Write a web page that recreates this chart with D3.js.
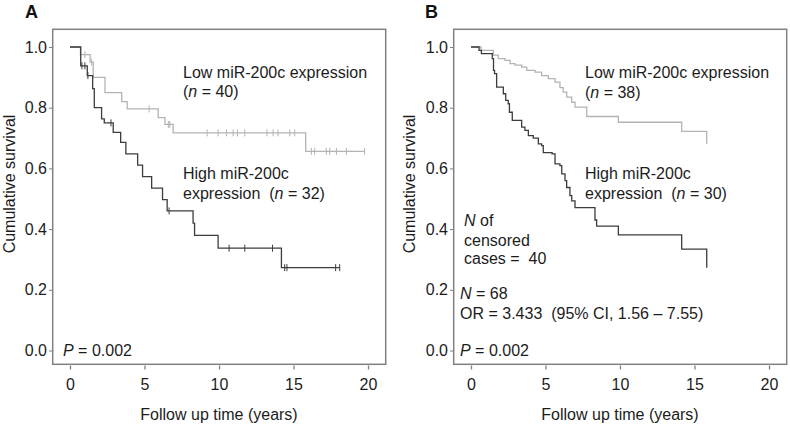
<!DOCTYPE html>
<html>
<head>
<meta charset="utf-8">
<script src="https://cdn.jsdelivr.net/npm/d3@7"></script>
<style>
html,body{margin:0;padding:0;background:#fff;}
svg{display:block;font-family:"Liberation Sans",Arial,sans-serif;}
</style>
</head>
<body>
<svg id="chart" width="790" height="425"></svg>
<script>
// ---- tick labels ----
const yearTicks = [0, 5, 10, 15, 20];
const survTicks = [0.0, 0.2, 0.4, 0.6, 0.8, 1.0];

// ---- Panel A: Low miR-200c (n = 40) ----
const aLowTime = [0, 0.7, 1.35, 1.56, 2.35, 3.47, 3.84, 5.92, 6.37, 6.92, 15.82, 19.77];
const aLowSurv = [1.0, 0.975, 0.95, 0.90, 0.85, 0.82, 0.796, 0.767, 0.745, 0.717, 0.656, 0.656];
const aLowCensor = [1.0, 1.45, 5.31, 6.6, 6.7, 9.2, 9.94, 10.5, 10.95, 11.24, 11.73, 13.22, 13.63, 13.96, 14.75, 15.08,
                    16.2, 16.42, 17.2, 17.43, 17.88, 18.55, 19.77];

// ---- Panel A: High miR-200c (n = 32) ----
const aHighTime = [0, 0.72, 1.16, 1.52, 1.63, 2.12, 2.3, 2.9, 3.4, 3.75, 4.54, 4.87, 5.48, 6.21, 6.52, 8.26, 8.36, 9.94, 14.19, 18.1];
const aHighSurv = [1.0, 0.938, 0.906, 0.863, 0.80, 0.763, 0.75, 0.719, 0.686, 0.648, 0.611, 0.573, 0.535, 0.497, 0.46, 0.42, 0.379, 0.337, 0.273, 0.273];
const aHighCensor = [0.8, 1.0, 1.2, 2.75, 6.65, 10.68, 11.73, 13.59, 14.41, 14.56, 17.83, 18.1];

// ---- Panel B: Low miR-200c (n = 38) ----
const bLowTime = [0, 0.67, 1.5, 1.83, 2.28, 2.62, 2.95, 3.4, 3.74, 4.3, 4.74, 5.19, 5.64, 5.97, 6.19, 6.42, 6.76, 6.98, 7.77, 9.89, 14.14, 15.82];
const bLowSurv = [1.0, 0.989, 0.973, 0.962, 0.956, 0.945, 0.94, 0.934, 0.923, 0.917, 0.906, 0.896, 0.884, 0.866, 0.851, 0.835, 0.818, 0.802, 0.771, 0.752, 0.722, 0.681];

// ---- Panel B: High miR-200c (n = 30) ----
const bHighTime = [0, 0.54, 0.7, 1.43, 1.51, 1.58, 1.72, 2.17, 2.33, 2.5, 2.58, 2.77, 3.4, 3.62, 3.85, 4.18, 4.52, 4.74, 4.85, 5.44,
                   5.64, 5.97, 6.09, 6.31, 6.42, 6.64, 6.76, 6.98, 8.32, 8.43, 9.89, 14.14, 15.82];
const bHighSurv = [1.0, 0.989, 0.978, 0.962, 0.923, 0.912, 0.868, 0.846, 0.824, 0.813, 0.785, 0.758, 0.736, 0.725, 0.708, 0.70, 0.681, 0.675, 0.652, 0.648,
                   0.615, 0.609, 0.582, 0.56, 0.537, 0.51, 0.493, 0.471, 0.43, 0.41, 0.381, 0.334, 0.273];

const darkColor = "#3c3c3c";
const lightColor = "#b3b3b3";
const textColor = "#1c1c1c";

const svg = d3.select("#chart");

function stepValue(times, surv, t) {
  let v = surv[0];
  for (let i = 0; i < times.length; i++) { if (times[i] <= t) v = surv[i]; }
  return v;
}

function drawPanel(ox, cfg) {
  const g = svg.append("g").attr("transform", `translate(${ox},0)`);
  const x = d3.scaleLinear().domain([0, 20]).range([70, 368]);
  const y = d3.scaleLinear().domain([0, 1]).range([350.5, 47]);

  // frame
  g.append("rect").attr("x", 52.7).attr("y", 29.3).attr("width", 333).attr("height", 335)
    .attr("fill", "none").attr("stroke", "#808080").attr("stroke-width", 1.5);

  // y axis
  const ya = d3.axisLeft(y).tickValues(survTicks).tickFormat(d3.format(".1f")).tickSize(3).tickPadding(2);
  const yg = g.append("g").attr("transform", "translate(52,0)").call(ya);
  yg.select(".domain").remove();
  yg.selectAll("line").attr("stroke", "#808080");
  yg.selectAll("text").attr("font-size", 16).attr("fill", textColor).attr("font-family", "Liberation Sans, Arial, sans-serif");

  // x axis
  const xa = d3.axisBottom(x).tickValues(yearTicks).tickFormat(d3.format("d")).tickSize(4).tickPadding(9);
  const xg = g.append("g").attr("transform", "translate(0,365.5)").call(xa);
  xg.select(".domain").remove();
  xg.selectAll("line").attr("stroke", "#808080").attr("stroke-width", 1.3);
  xg.selectAll("text").attr("font-size", 16).attr("fill", textColor).attr("font-family", "Liberation Sans, Arial, sans-serif");

  // axis titles
  g.append("text").attr("x", 219).attr("y", 420).attr("text-anchor", "middle")
    .attr("font-size", 16).attr("fill", textColor).text("Follow up time (years)");
  g.append("text").attr("transform", `translate(${cfg.yTitleX},184) rotate(-90)`).attr("text-anchor", "middle")
    .attr("font-size", 16).attr("fill", textColor).text("Cumulative survival");

  // panel letter
  g.append("text").attr("x", cfg.letterX).attr("y", 18).attr("font-size", 18).attr("font-weight", "bold")
    .attr("fill", "#111").text(cfg.letter);

  const line = d3.line().x(d => x(d[0])).y(d => y(d[1])).curve(d3.curveStepAfter);
  cfg.series.forEach(s => {
    const pts = s.time.map((t, i) => [t, s.surv[i]]);
    g.append("path").datum(pts).attr("d", line).attr("fill", "none")
      .attr("stroke", s.color).attr("stroke-width", 1.3);
    if (s.censor) {
      g.selectAll(null).data(s.censor).enter().append("line")
        .attr("x1", d => x(d)).attr("x2", d => x(d))
        .attr("y1", d => y(stepValue(s.time, s.surv, d)) - 3.5)
        .attr("y2", d => y(stepValue(s.time, s.surv, d)) + 3.5)
        .attr("stroke", s.color).attr("stroke-width", 1);
    }
  });

  // annotations
  cfg.texts.forEach(tx => {
    const t = g.append("text").attr("x", tx.x).attr("y", tx.y).attr("font-size", 16).attr("fill", textColor)
      .attr("xml:space", "preserve");
    tx.parts.forEach(p => {
      const sp = t.append("tspan").text(p[0]);
      if (p[1]) sp.attr("font-style", "italic");
    });
  });
}

drawPanel(0, {
  letter: "A", letterX: 25, yTitleX: 15,
  series: [
    { time: aLowTime, surv: aLowSurv, censor: aLowCensor, color: lightColor },
    { time: aHighTime, surv: aHighSurv, censor: aHighCensor, color: darkColor }
  ],
  texts: [
    { x: 183, y: 78, parts: [["Low miR-200c expression"]] },
    { x: 183, y: 97, parts: [["("], ["n", true], [" = 40)"]] },
    { x: 183, y: 179, parts: [["High miR-200c"]] },
    { x: 183, y: 199, parts: [["expression  ("], ["n", true], [" = 32)"]] },
    { x: 63, y: 356, parts: [["P", true], [" = 0.002"]] }
  ]
});

drawPanel(401, {
  letter: "B", letterX: 24, yTitleX: 14,
  series: [
    { time: bLowTime, surv: bLowSurv, color: lightColor },
    { time: bHighTime, surv: bHighSurv, color: darkColor }
  ],
  texts: [
    { x: 184, y: 78, parts: [["Low miR-200c expression"]] },
    { x: 184, y: 98, parts: [["("], ["n", true], [" = 38)"]] },
    { x: 184, y: 179, parts: [["High miR-200c"]] },
    { x: 184, y: 199, parts: [["expression  ("], ["n", true], [" = 30)"]] },
    { x: 63, y: 226, parts: [["N", true], [" of"]] },
    { x: 63, y: 246, parts: [["censored"]] },
    { x: 63, y: 264, parts: [["cases =  40"]] },
    { x: 59, y: 299, parts: [["N", true], [" = 68"]] },
    { x: 59, y: 319, parts: [["OR = 3.433  (95% CI, 1.56 \u2013 7.55)"]] },
    { x: 59, y: 356, parts: [["P", true], [" = 0.002"]] }
  ]
});
</script>
</body>
</html>
